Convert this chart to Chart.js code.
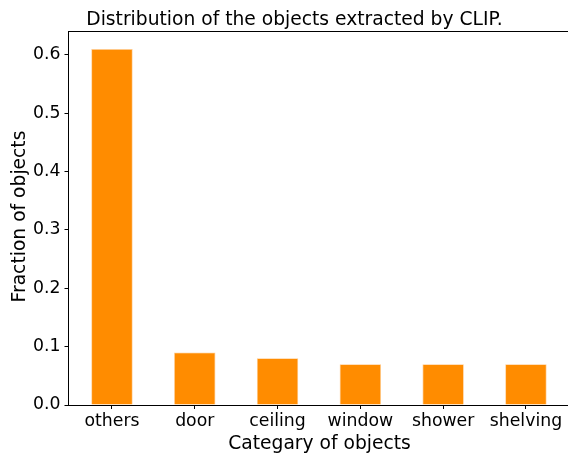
<!DOCTYPE html>
<html>
<head>
<meta charset="utf-8">
<script src="https://cdn.jsdelivr.net/npm/chart.js@4.4.1/dist/chart.umd.min.js"></script>
<style>
  html, body { margin: 0; padding: 0; background: #fff; overflow: hidden; }
  #wrap { width: 572px; height: 455px; }
</style>
</head>
<body>
<div id="wrap"><canvas id="c" width="572" height="455"></canvas></div>
<script>
const chartTitle = "Distribution of the objects extracted by CLIP.";
const xAxisTitle = "Categary of objects";
const yAxisTitle = "Fraction of objects";
const categories = ["others", "door", "ceiling", "window", "shower", "shelving"];
const fractions = [0.61, 0.09, 0.08, 0.07, 0.07, 0.07];
const yTicks = [0.0, 0.1, 0.2, 0.3, 0.4, 0.5, 0.6];

const FONT = "'DejaVu Sans', sans-serif";

const textPlugin = {
  id: 'textPlugin',
  afterDraw(chart) {
    const ctx = chart.ctx;
    const a = chart.chartArea;
    ctx.save();
    // top spine
    ctx.strokeStyle = '#000';
    ctx.lineWidth = 1;
    ctx.beginPath();
    ctx.moveTo(a.left, a.top + 0.5);
    ctx.lineTo(a.right, a.top + 0.5);
    ctx.stroke();
    ctx.fillStyle = '#000';
    ctx.textBaseline = 'alphabetic';
    ctx.textAlign = 'center';
    ctx.font = "18.7px " + FONT;
    ctx.fillText(chartTitle, 294.5, 25);
    ctx.fillText(xAxisTitle, 319.5, 448.5);
    ctx.translate(25, 216.5);
    ctx.rotate(-Math.PI / 2);
    ctx.fillText(yAxisTitle, 0, 0);
    ctx.restore();
  }
};

new Chart(document.getElementById('c'), {
  type: 'bar',
  data: {
    datasets: [{
      data: categories.map((c, i) => ({ x: i, y: fractions[i] })),
      backgroundColor: '#ff8c00',
      borderColor: '#ffc98a',
      borderWidth: 0.8,
      barPercentage: 0.5,
      categoryPercentage: 1.0
    }]
  },
  options: {
    responsive: false,
    animation: false,
    layout: { padding: { top: 31, right: 2.6, left: 0, bottom: 0 } },
    plugins: { legend: { display: false }, title: { display: false }, tooltip: { enabled: false } },
    scales: {
      x: {
        type: 'linear',
        min: -0.525,
        max: 5.525,
        offset: false,
        afterBuildTicks(axis) { axis.ticks = categories.map((c, i) => ({ value: i })); },
        afterFit(axis) { axis.height = 50; },
        grid: { display: true, offset: false, drawOnChartArea: false, drawTicks: true, tickLength: 4, tickColor: '#000', tickWidth: 1 },
        border: { display: true, color: '#000', width: 1 },
        ticks: {
          autoSkip: false,
          maxRotation: 0,
          padding: 2.5,
          color: '#000',
          font: { family: FONT, size: 17.3 },
          callback: (v) => categories[v]
        }
      },
      y: {
        min: 0,
        max: 0.641,
        afterBuildTicks(axis) { axis.ticks = yTicks.map(v => ({ value: v })); },
        afterFit(axis) { axis.width = 68.5; },
        grid: { display: true, drawOnChartArea: false, drawTicks: true, tickLength: 4, tickColor: '#000', tickWidth: 1 },
        border: { display: true, color: '#000', width: 1 },
        ticks: {
          padding: 4,
          color: '#000',
          font: { family: FONT, size: 17.3 },
          callback: (v) => Number(v).toFixed(1)
        }
      }
    }
  },
  plugins: [textPlugin]
});
</script>
</body>
</html>
